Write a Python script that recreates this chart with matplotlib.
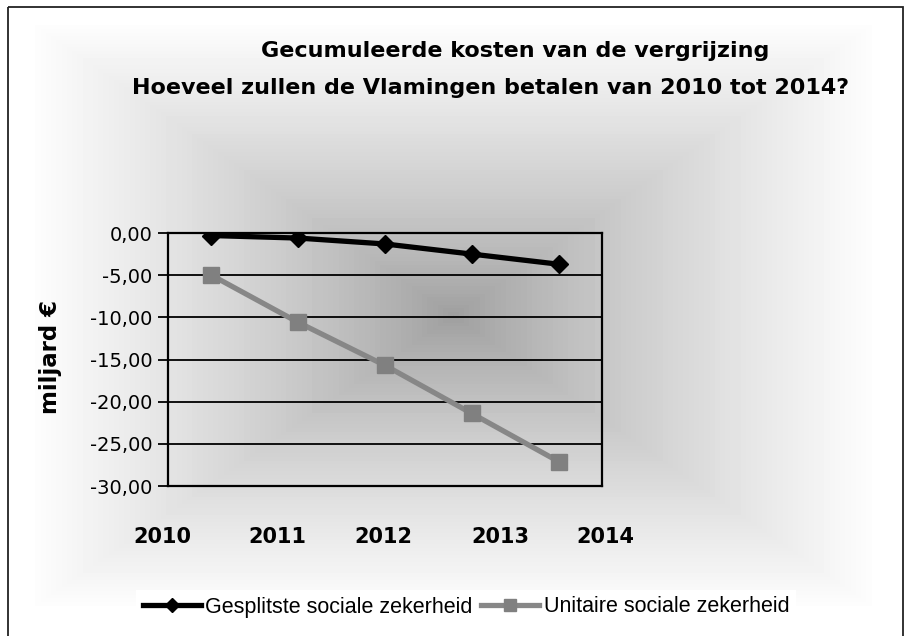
import matplotlib
matplotlib.use("Agg")
import matplotlib.pyplot as plt
import matplotlib.transforms as mtransforms
from matplotlib.patches import Rectangle
import numpy as np

# data
jaren = ["2010", "2011", "2012", "2013", "2014"]
gesplitst = [-0.3, -0.6, -1.3, -2.5, -3.7]
unitair = [-5.0, -10.6, -15.7, -21.4, -27.1]
y_ticks = [0, -5, -10, -15, -20, -25, -30]
y_labels = ["0,00", "-5,00", "-10,00", "-15,00", "-20,00", "-25,00", "-30,00"]

# where the year labels sit under the plot (data x)
label_pos = [-0.57, 0.76, 1.98, 3.33, 4.54]

W, H = 911, 636
fig = plt.figure(figsize=(W / 100, H / 100), dpi=100)

# achtergrond: rechthoekig verloop vanuit het midden
bg = fig.add_axes([0, 0, 1, 1], zorder=-10)
xx, yy = np.meshgrid(np.arange(W), np.arange(H))
t = np.maximum(np.abs(xx - 453) / 418.0, np.abs(yy - 315) / 290.0)
t = np.ceil(t * 80) / 80
grijs = np.clip(0.61 + 0.38 * t ** 0.8, 0, 1)
grijs[t > 1] = 1.0
bg.imshow(grijs, cmap="gray", vmin=0, vmax=1, extent=(0, W, H, 0), aspect="auto", interpolation="bilinear")
bg.set_xlim(0, W)
bg.set_ylim(H, 0)
bg.axis("off")
bg.add_patch(Rectangle((8, 7), 895, 640, fill=False, edgecolor="#222222", linewidth=1.3))

ax = fig.add_axes([168 / W, 1 - 486 / H, 434 / W, 253 / H])
ax.set_facecolor("none")
x = np.arange(len(jaren))
ax.plot(x, unitair, color="#878787", linewidth=3.8, marker="s", markersize=11.5,
        markerfacecolor="#808080", markeredgecolor="#808080", label="Unitaire sociale zekerheid", zorder=3)
ax.plot(x, gesplitst, color="black", linewidth=3.8, marker="D", markersize=9,
        label="Gesplitste sociale zekerheid", zorder=4)

ax.set_xlim(-0.5, len(jaren) - 0.5)
ax.set_ylim(-30, 0)
ax.set_yticks(y_ticks)
ax.set_yticklabels(y_labels, fontsize=14, family="DejaVu Sans")
ax.set_xticks([])
ax.tick_params(axis="y", direction="out", length=7, width=1.3, pad=4)
ax.grid(axis="y", color="black", linewidth=1.3)
ax.set_axisbelow(True)
for s in ax.spines.values():
    s.set_linewidth(1.6)
    s.set_color("black")

trans = mtransforms.blended_transform_factory(ax.transData, fig.transFigure)
for pos, jaar in zip(label_pos, jaren):
    ax.text(pos, 1 - 537 / H, jaar, transform=trans, ha="center", va="center",
            fontsize=15, fontweight="bold", family="DejaVu Sans", clip_on=False)

fig.text(50 / W, 1 - 357 / H, "miljard €", rotation=90, ha="center", va="center",
         fontsize=16.5, fontweight="bold", family="DejaVu Sans")

fig.text(515 / W, 1 - 51 / H, "Gecumuleerde kosten van de vergrijzing", ha="center", va="center",
         fontsize=16, fontweight="bold", family="DejaVu Sans")
fig.text(491 / W, 1 - 88 / H, "Hoeveel zullen de Vlamingen betalen van 2010 tot 2014?", ha="center",
         va="center", fontsize=16, fontweight="bold", family="DejaVu Sans")

h, l = ax.get_legend_handles_labels()
leg = fig.legend(h[::-1], l[::-1], loc="center", bbox_to_anchor=(466 / W, 1 - 607 / H), ncol=2,
                 frameon=True, fancybox=False, framealpha=1, facecolor="white", edgecolor="none",
                 prop={"family": "Liberation Sans", "size": 15.5}, handlelength=2.7, markerscale=0.75,
                 handletextpad=0.2, columnspacing=0.4, borderpad=0.3, borderaxespad=0)

fig.savefig("out.png", dpi=100)
